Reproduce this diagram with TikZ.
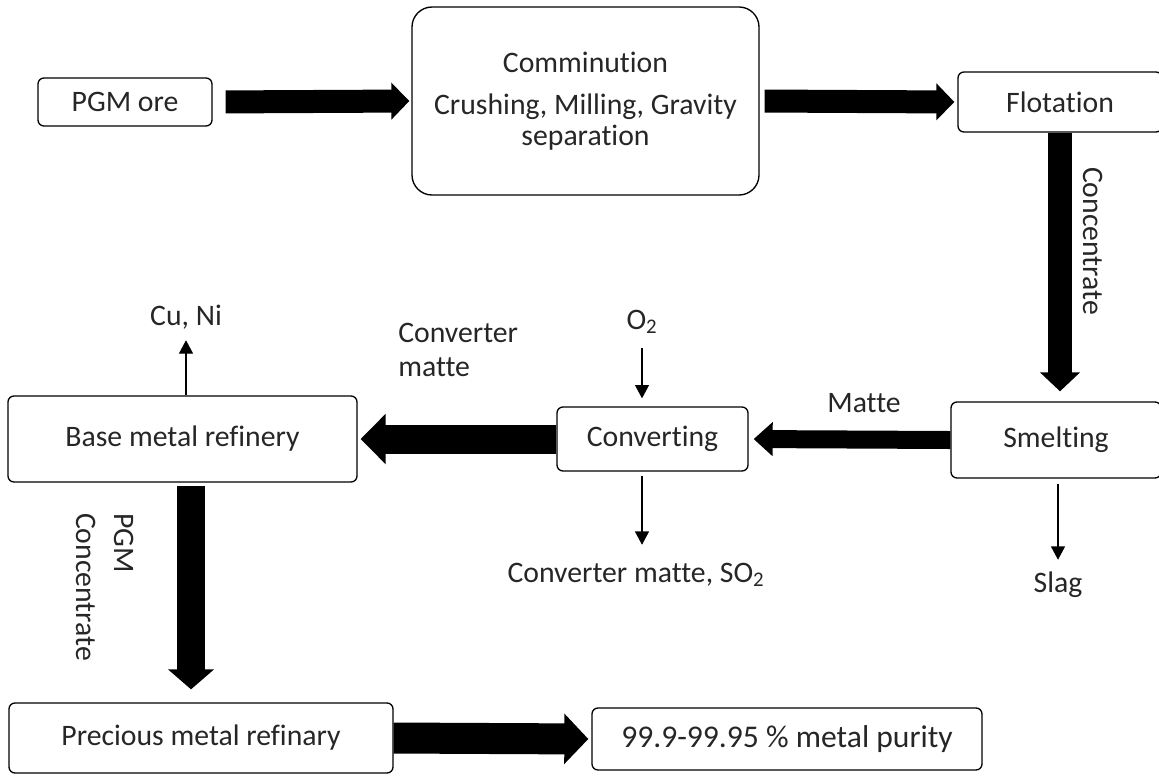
\documentclass[tikz,border=0pt]{standalone}
\usepackage{fontspec}
\setmainfont{Carlito}[Ligatures=NoCommon]
\definecolor{ink}{HTML}{262626}
\usepackage{tikz}
\usetikzlibrary{arrows.meta}
\tikzstyle{base}=[x=0.75pt, y=-0.75pt, font=\fontsize{22.3}{23}\selectfont, text=ink]
\tikzstyle{box}=[draw=black, line width=1pt, rounded corners=4.5pt, inner sep=0pt, align=center]
\tikzstyle{lbl}=[inner sep=0pt, text height=14pt, text depth=4pt]
\tikzstyle{thin}=[draw=black, line width=0.9pt, -{Triangle[width=10.5pt,length=10pt]}]
\tikzset{fat/.style n args={3}{draw=black, line width=#1, -{Triangle[width=#2,length=#3]}}}

\begin{document}
\begin{tikzpicture}[base]
    \path [use as bounding box] (0,0) rectangle (1159,776);
    \clip (0,0) rectangle (1159,776);
    % process boxes
    \node [box, minimum width=130.5pt, minimum height=36pt] (ore) at (125,102) {PGM ore};
    \node [box, rounded corners=15pt, minimum width=260.25pt, minimum height=141pt] (comm) at (585.5,101)
        {Comminution\\[9pt] Crushing, Milling, Gravity\\ separation};
    \node [box, minimum width=153pt, minimum height=45pt] (flot) at (1060,102) {Flotation};
    \node [box, minimum width=157.5pt, minimum height=57pt] (smelt) at (1056,440) {Smelting};
    \node [box, minimum width=143.25pt, minimum height=48pt] (conv) at (652.5,439) {Converting};
    \node [box, minimum width=261.75pt, minimum height=64.5pt] (bmr) at (182.5,439) {Base metal refinery};
    \node [box, minimum width=288pt, minimum height=52.5pt] (pmr) at (201,738) {Precious metal refinary};
    \node [box, minimum width=292.5pt, minimum height=46.5pt, font=\fontsize{23.7}{25}\selectfont] (purity) at (787,739) {99.9-99.95 \% metal purity};
    % labels
    \node [lbl] (cuni) at (186,319) {Cu, Ni};
    \node [lbl] (o2) at (642,323) {O\textsubscript{2}};
    \node [lbl] (cms) at (636,576) {Converter matte, SO\textsubscript{2}};
    \node [lbl] (slag) at (1058,586) {Slag};
    \node [lbl] (matte) at (864,406) {Matte};
    \node [anchor=west, align=left, inner sep=0pt] (convmatte) at (398,350) {Converter\\[3pt] matte};
    \node [rotate=-90, inner sep=0pt] (conc) at (1093,241) {Concentrate};
    \node [rotate=-90, align=left, inner sep=0pt] (pgmconc) at (105,587) {PGM\\[6pt] Concentrate};
    % main flow
    \draw [fat={17.25pt}{27pt}{13.5pt}, shorten <=9.75pt, shorten >=1.5pt] (ore.east) -- (comm.west);
    \draw [fat={17.25pt}{27pt}{13.5pt}, shorten <=3.75pt, shorten >=2.25pt] (comm.east) -- (flot.west);
    \draw [fat={18pt}{29.25pt}{14.25pt}, shorten >=7.5pt] (flot.south) -- (flot.south |- smelt.north);
    \draw [fat={13.5pt}{24.75pt}{14.25pt}, shorten >=3.75pt] (smelt.west) -- (conv.east);
    \draw [fat={21.75pt}{36.75pt}{18.75pt}, shorten >=2.25pt] (conv.west) -- (bmr.east);
    \draw [fat={21pt}{33.75pt}{15pt}, shorten <=2.25pt, shorten >=9.75pt] ([xshift=6.4pt]bmr.south) -- ([xshift=6.4pt]bmr.south |- pmr.north);
    \draw [fat={23.25pt}{36.75pt}{18pt}, shorten >=2.25pt] (pmr.east) -- (purity.west);
    % side streams
    \draw [thin, shorten >=6.75pt] (bmr.north -| cuni) -- (cuni.south);
    \draw [thin, shorten <=9.75pt, shorten >=6pt] (o2.south) -- (o2.south |- conv.north);
    \draw [thin, shorten <=3pt, shorten >=14.25pt] (conv.south -| o2) -- (o2 |- cms.north);
    \draw [thin, shorten <=3.75pt, shorten >=10.5pt] (smelt.south -| slag) -- (slag.north);
\end{tikzpicture}
\end{document}
